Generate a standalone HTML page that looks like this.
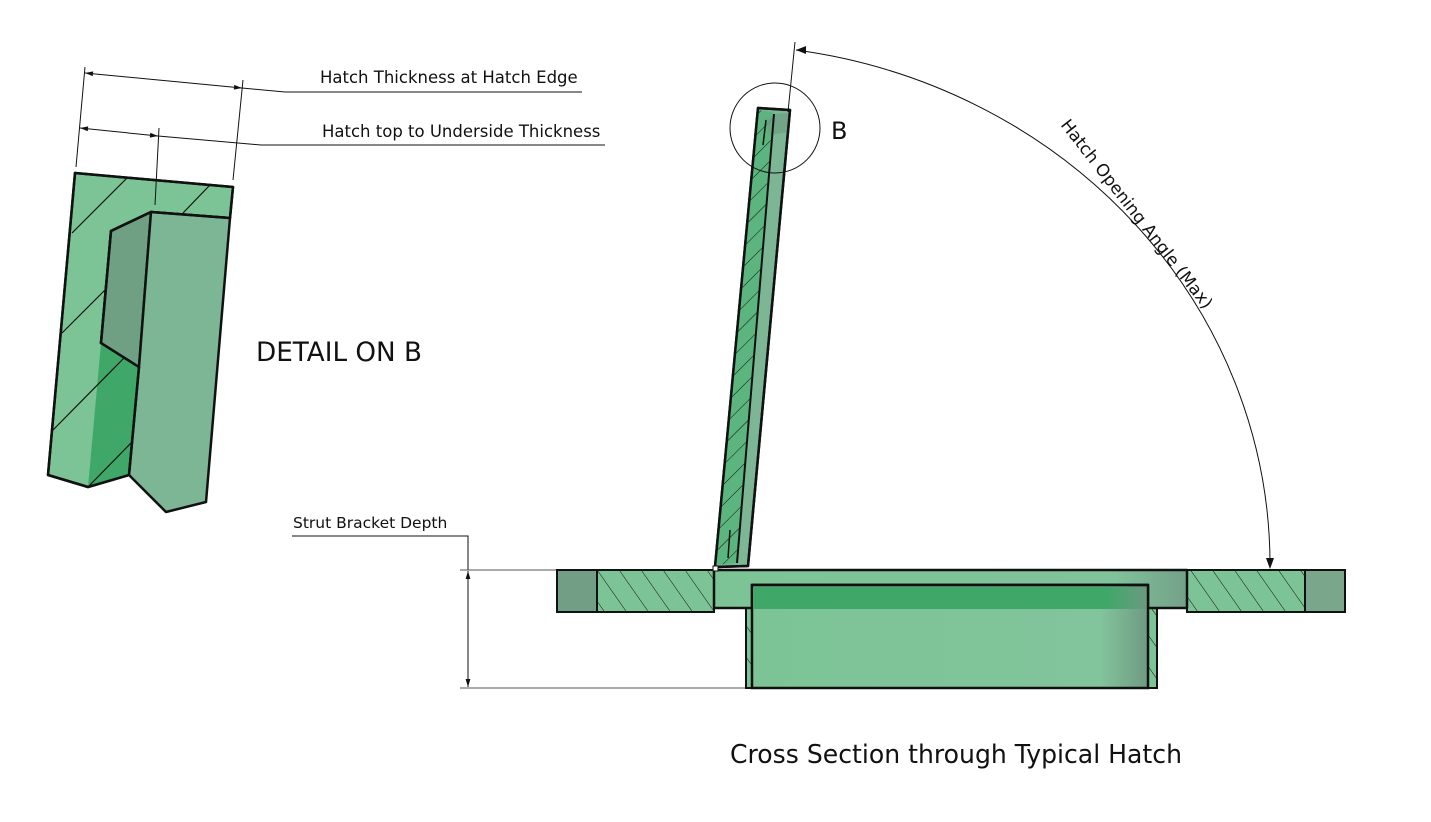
<!DOCTYPE html>
<html><head><meta charset="utf-8"><style>
html,body{margin:0;padding:0;background:#fff;}
svg{display:block;}
text{font-family:"DejaVu Sans","Liberation Sans",sans-serif;fill:#111;}
</style></head><body>
<svg width="1431" height="822" viewBox="0 0 1431 822" xmlns="http://www.w3.org/2000/svg">
<defs>
<marker id="ar" viewBox="0 0 10 10" refX="10" refY="5" markerWidth="10" markerHeight="8" orient="auto-start-reverse" markerUnits="userSpaceOnUse"><path d="M0,2 L10,5 L0,8 z" fill="#111"/></marker>
<linearGradient id="gtop" x1="0" y1="0" x2="1" y2="0"><stop offset="0" stop-color="#3fa868"/><stop offset="0.9" stop-color="#3fa868"/><stop offset="1" stop-color="#6a9a80"/></linearGradient>
<linearGradient id="gbody" x1="0" y1="0" x2="1" y2="0"><stop offset="0" stop-color="#7cc496"/><stop offset="0.88" stop-color="#82c49c"/><stop offset="1" stop-color="#6f9a82"/></linearGradient>
<linearGradient id="glid" x1="0" y1="0" x2="1" y2="0"><stop offset="0" stop-color="#7cc496"/><stop offset="0.85" stop-color="#80c29a"/><stop offset="1" stop-color="#74a088"/></linearGradient>
<pattern id="h1" width="18" height="18" patternUnits="userSpaceOnUse" patternTransform="rotate(-35)"><rect width="18" height="18" fill="#7cc496"/><line x1="0" y1="0" x2="0" y2="18" stroke="#111" stroke-width="1"/></pattern>
<pattern id="leafh" width="14" height="14" patternUnits="userSpaceOnUse" patternTransform="rotate(45)"><rect width="14" height="14" fill="#5cb47e"/><line x1="0" y1="0" x2="0" y2="14" stroke="#111" stroke-width="1"/></pattern>
</defs>

<!-- DETAIL ON B -->
<polygon points="75,173 233,187 230,218 151,212 111,231 101,343 139,367 129,475 88,487 48,475" fill="#7cc496" stroke="#111" stroke-width="2.5" stroke-linejoin="round"/>
<polygon points="101,343 139,367 129,475 88,487" fill="#3fa868"/>
<polygon points="111,231 151,212 139,367 101,343" fill="#6fa084" stroke="#111" stroke-width="2.5" stroke-linejoin="round"/>
<polygon points="151,212 230,218 206,502 166,512 129,475 139,367" fill="#7db695" stroke="#111" stroke-width="2.5" stroke-linejoin="round"/>
<g stroke="#111" stroke-width="1.2">
<line x1="72" y1="233" x2="127" y2="178"/>
<line x1="183" y1="213" x2="209" y2="186"/>
<line x1="62" y1="333" x2="105" y2="290"/>
<line x1="53" y1="430" x2="124" y2="358"/>
<line x1="88" y1="487" x2="131" y2="443"/>
</g>
<polygon points="75,173 233,187 230,218 151,212 111,231 101,343 139,367 129,475 88,487 48,475" fill="none" stroke="#111" stroke-width="2.5" stroke-linejoin="round"/>
<g stroke="#111" stroke-width="1" fill="none">
<line x1="76" y1="167" x2="85" y2="67"/>
<line x1="233" y1="180" x2="243" y2="80"/>
<line x1="155" y1="205" x2="159" y2="128"/>
<line x1="85" y1="73" x2="242" y2="88" marker-start="url(#ar)" marker-end="url(#ar)"/>
<polyline points="242,88 285,92 582,92"/>
<line x1="80" y1="128" x2="158" y2="136" marker-start="url(#ar)" marker-end="url(#ar)"/>
<polyline points="158,136 261,145 605,145"/>
</g>
<text x="320" y="83" font-size="16.5">Hatch Thickness at Hatch Edge</text>
<text x="322" y="137" font-size="16.5">Hatch top to Underside Thickness</text>
<text x="256" y="361" font-size="26.5" textLength="166" lengthAdjust="spacingAndGlyphs">DETAIL ON B</text>

<!-- Strut bracket dimension -->
<g stroke="#111" stroke-width="1" fill="none">
<polyline points="292,536 468,536 468,570"/>
<line x1="460" y1="570" x2="557" y2="570" stroke="#555"/>
<line x1="460" y1="688" x2="746" y2="688" stroke="#555"/>
<line x1="468" y1="571" x2="468" y2="687" marker-start="url(#ar)" marker-end="url(#ar)"/>
</g>
<text x="293" y="528" font-size="15.5">Strut Bracket Depth</text>

<!-- base frame -->
<rect x="557" y="570" width="40" height="42" fill="#739e86" stroke="#111" stroke-width="2"/>
<rect x="597" y="570" width="117" height="42" fill="url(#h1)" stroke="#111" stroke-width="2"/>
<rect x="1187" y="570" width="118" height="42" fill="url(#h1)" stroke="#111" stroke-width="2"/>
<rect x="1305" y="570" width="40" height="42" fill="#7aa68c" stroke="#111" stroke-width="2"/>
<rect x="746" y="608" width="411" height="80" fill="url(#h1)" stroke="#111" stroke-width="2"/>
<path d="M714,570 H1187 V608 H1148 V585 H752 V608 H714 Z" fill="url(#glid)" stroke="#111" stroke-width="2.5" stroke-linejoin="round"/>
<rect x="752" y="585" width="396" height="103" fill="url(#gbody)" stroke="#111" stroke-width="2.5"/>
<rect x="754" y="587" width="392" height="22" fill="url(#gtop)"/>
<line x1="752" y1="585" x2="1148" y2="585" stroke="#111" stroke-width="2.5"/>

<!-- hatch leaf -->
<polygon points="758,108 790,110 748,566 715,567" fill="#7db695" stroke="#111" stroke-width="2.5" stroke-linejoin="round"/>
<polygon points="758,110 773,112 737,563 716,565" fill="url(#leafh)"/>
<polygon points="765,120 775,114 789,113 787,132 770,135" fill="#6fa084" opacity="0.8"/>
<line x1="774" y1="114" x2="737" y2="563" stroke="#111" stroke-width="2"/>
<line x1="766" y1="120" x2="763" y2="145" stroke="#111" stroke-width="1.5"/>
<line x1="730" y1="530" x2="728" y2="558" stroke="#111" stroke-width="1.5"/>
<polygon points="758,108 790,110 748,566 715,567" fill="none" stroke="#111" stroke-width="2.5" stroke-linejoin="round"/>
<rect x="713" y="566" width="5" height="5" fill="#fff" stroke="#111" stroke-width="1"/>

<circle cx="775" cy="128" r="45" fill="none" stroke="#111" stroke-width="1"/>
<text x="831" y="139" font-size="24">B</text>

<line x1="795" y1="42" x2="788" y2="112" stroke="#111" stroke-width="1"/>
<path d="M796,50 A552 520 0 0 1 1270,568" fill="none" stroke="#111" stroke-width="1"/>
<path d="M796,50 L806,46 L806,54 z" fill="#111"/>
<path d="M1270,569 L1266,558 L1274,558 z" fill="#111"/>
<text x="0" y="0" font-size="17" transform="translate(1060,125) rotate(52)">Hatch Opening Angle (Max)</text>

<text x="730" y="763" font-size="26" textLength="452" lengthAdjust="spacingAndGlyphs">Cross Section through Typical Hatch</text>
</svg>
</body></html>
